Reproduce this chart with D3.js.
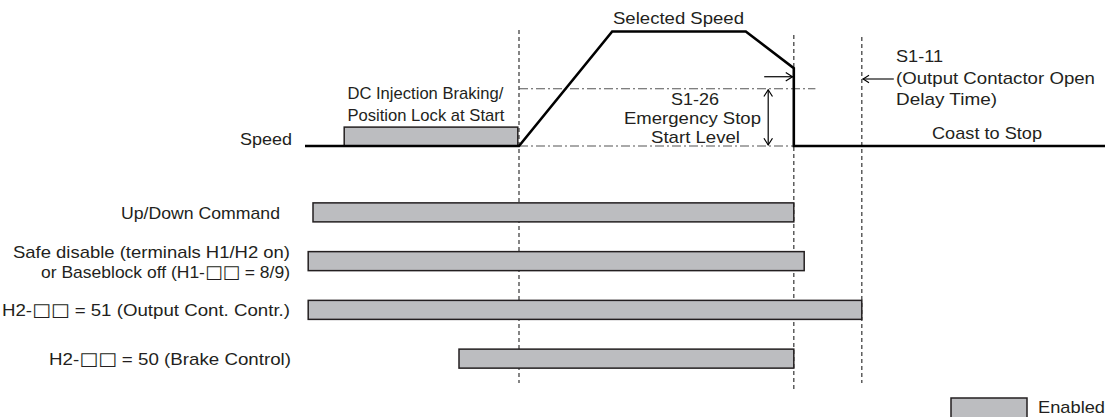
<!DOCTYPE html>
<html><head><meta charset="utf-8">
<script src="https://cdn.jsdelivr.net/npm/d3@7"></script>
<style>
html,body{margin:0;padding:0;background:#fff;}
svg{display:block;font-family:"Liberation Sans",Arial,"DejaVu Sans",sans-serif;}
</style></head>
<body>
<svg id="c" width="1107" height="417"></svg>
<script>
// ---- data (time in arbitrary units 0..100, speed in % of selected speed) ----
const speedTimes  = [0, 26.75, 38.4, 55.1, 61.1, 61.1, 100];
const speedValues = [0, 0,     100,  100,  68,   0,    0];
const dcBrakeStart = 4.9, dcBrakeEnd = 26.6, dcBrakeLevel = 16.5;
const emergencyLevel = 50;
const markerTimes = [26.75, 61.1, 69.6];
const signalNames = [
  ["Up/Down Command"],
  ["Safe disable (terminals H1/H2 on)", "or Baseblock off (H1-\u25A1\u25A1 = 8/9)"],
  ["H2-\u25A1\u25A1 = 51 (Output Cont. Contr.)"],
  ["H2-\u25A1\u25A1 = 50 (Brake Control)"]
];
const signalStart = [1.0, 0.4, 0.4, 19.25];
const signalEnd   = [61.1, 62.4, 69.6, 61.1];

const svg = d3.select("#c");
const x = d3.scaleLinear().domain([0, 100]).range([305, 1105]);
const y = d3.scaleLinear().domain([0, 100]).range([146, 31.5]);
const lane = d3.scaleBand().domain(d3.range(signalNames.length)).range([188, 383]);
const barH = 19;
const ink = "#231f20", fill = "#bcbdc0", fs = 17;
const labelRight = [280, 290, 290, 291];
const labelWidth = [[159], [277, 249], [288], [242]];

// dashed vertical markers
const markerTop = [30, 35, 37], markerBot = [383, 389, 383];
markerTimes.forEach((t,i)=>{
  svg.append("line").attr("x1",x(t)).attr("x2",x(t))
    .attr("y1",markerTop[i]).attr("y2",markerBot[i])
    .attr("stroke","#444").attr("stroke-width",1.3).attr("stroke-dasharray","4,3");
});

// dash-dot reference levels
svg.append("line").attr("x1",x(26.75)).attr("x2",x(63.8))
  .attr("y1",y(emergencyLevel)).attr("y2",y(emergencyLevel))
  .attr("stroke","#555").attr("stroke-width",1.2).attr("stroke-dasharray","9,3,2,3");
svg.append("line").attr("x1",x(26.75)).attr("x2",x(61.1))
  .attr("y1",y(0)).attr("y2",y(0))
  .attr("stroke","#555").attr("stroke-width",1.2).attr("stroke-dasharray","9,3,2,3");

// DC injection box
svg.append("rect").attr("x",x(dcBrakeStart)).attr("y",y(dcBrakeLevel))
  .attr("width",x(dcBrakeEnd)-x(dcBrakeStart)).attr("height",y(0)-y(dcBrakeLevel))
  .attr("fill",fill).attr("stroke",ink).attr("stroke-width",1.5);

// speed curve
const line = d3.line().x((d,i)=>x(speedTimes[i])).y(d=>y(d));
svg.append("path").attr("d",line(speedValues)).attr("fill","none")
  .attr("stroke","#000").attr("stroke-width",2.6).attr("stroke-linejoin","miter");

// arrows
function arrowHead(px,py,dir,len){
  const a1 = dir+Math.PI*0.82, a2 = dir-Math.PI*0.82;
  return `M${px+len*Math.cos(a1)},${py+len*Math.sin(a1)}L${px},${py}L${px+len*Math.cos(a2)},${py+len*Math.sin(a2)}`;
}
const ay = y(60.5);
svg.append("line").attr("x1",x(57.4)).attr("x2",x(61.0)).attr("y1",ay).attr("y2",ay).attr("stroke","#000").attr("stroke-width",1.2);
svg.append("path").attr("d",arrowHead(x(61.0)-0.5,ay,0,8)).attr("fill","none").attr("stroke","#000").attr("stroke-width",1.2);
const vx = x(57.9);
svg.append("line").attr("x1",vx).attr("x2",vx).attr("y1",y(emergencyLevel)+1).attr("y2",y(0)-1).attr("stroke","#000").attr("stroke-width",1.2);
svg.append("path").attr("d",arrowHead(vx,y(emergencyLevel)+1,-Math.PI/2,8)).attr("fill","none").attr("stroke","#000").attr("stroke-width",1.2);
svg.append("path").attr("d",arrowHead(vx,y(0)-1,Math.PI/2,8)).attr("fill","none").attr("stroke","#000").attr("stroke-width",1.2);
svg.append("line").attr("x1",x(69.7)).attr("x2",x(73.6)).attr("y1",79).attr("y2",79).attr("stroke","#000").attr("stroke-width",1.1);
svg.append("path").attr("d",arrowHead(x(69.7)+0.5,79,Math.PI,7)).attr("fill","none").attr("stroke","#000").attr("stroke-width",1.1);

// texts (white squares rendered with DejaVu Sans); width matched to reference
function txt(s,tx,ty,anchor,w){
  const t = svg.append("text").attr("x",tx).attr("y",ty).attr("text-anchor",anchor||"start")
    .attr("font-size",fs).attr("fill","#231f20");
  s.split(/(\u25A1+)/).forEach(part=>{
    if(!part) return;
    const sp = t.append("tspan").text(part);
    if(/\u25A1/.test(part)) sp.attr("font-family","DejaVu Sans").attr("font-size",18);
  });
  if(w) t.attr("textLength",w).attr("lengthAdjust","spacingAndGlyphs");
  return t;
}
txt("Selected Speed", 678.5, 24, "middle", 131);
txt("DC Injection Braking/", x(5.3), 99, "start", 156);
txt("Position Lock at Start", x(5.3), 121, "start", 157);
txt("Speed", 292, 145, "end", 52);
txt("S1-26", 695, 105, "middle", 48);
txt("Emergency Stop", 692.5, 124, "middle", 137);
txt("Start Level", 695.5, 143, "middle", 89);
txt("S1-11", 896, 62, "start", 47);
txt("(Output Contactor Open", 896, 84, "start", 199);
txt("Delay Time)", 896, 105, "start", 101);
txt("Coast to Stop", 987, 139, "middle", 110);

// signal rows
signalNames.forEach((lines,i)=>{
  const cy = lane(i)+lane.bandwidth()/2;
  svg.append("rect").attr("x",x(signalStart[i])).attr("y",cy-barH/2)
    .attr("width",x(signalEnd[i])-x(signalStart[i])).attr("height",barH)
    .attr("fill",fill).attr("stroke",ink).attr("stroke-width",1.5);
  const n = lines.length;
  lines.forEach((s,j)=>{
    txt(s, labelRight[i], cy+6.5 + (j-(n-1)/2)*20, "end", labelWidth[i][j]);
  });
});

// legend
svg.append("rect").attr("x",951).attr("y",398).attr("width",76).attr("height",22)
  .attr("fill",fill).attr("stroke",ink).attr("stroke-width",1.5);
txt("Enabled", 1038, 413, "start", 67);
</script>
</body></html>
